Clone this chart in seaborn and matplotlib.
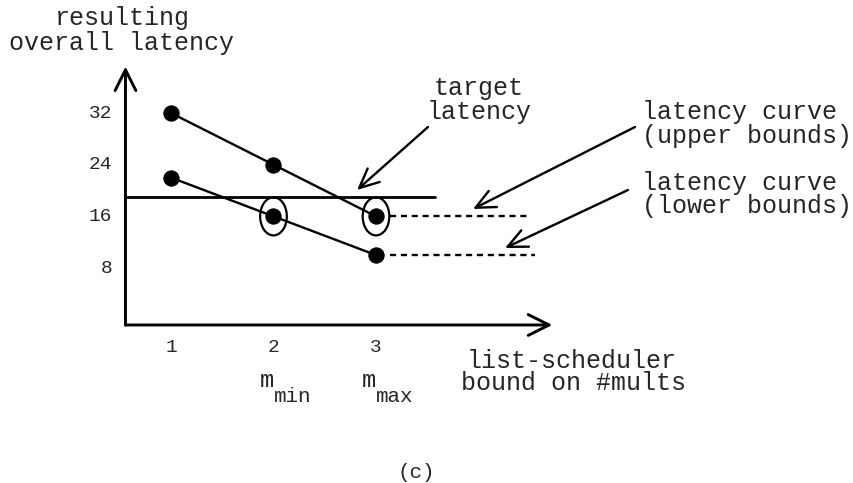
import matplotlib
matplotlib.use("Agg")
import matplotlib.pyplot as plt
from matplotlib.patches import Ellipse
import seaborn as sns
import pandas as pd

# ---- data ----
bounds = [1, 2, 3]                 # list-scheduler bound on #mults
upper_latency = [32, 24, 16]       # latency curve (upper bounds)
lower_latency = [22, 16, 10]       # latency curve (lower bounds)
target_latency = 19
y_ticks = [8, 16, 24, 32]
x_ticks = [1, 2, 3]
x_tick_labels = ["1", "2", "3"]
circled_bounds = [2, 3]            # m_min, m_max
circled_values = [16, 16]
sub_labels = ["min", "max"]
upper_tail_end = 4.5
lower_tail_end = 4.55
target_end = 3.58
axis_x0, axis_y0 = 0.556, -0.82
axis_x_end, axis_y_end = 4.72, 39.2

W, H = 854, 483
sns.set_theme(style="white")
plt.rcParams["font.family"] = ["Liberation Mono", "DejaVu Sans Mono"]

fig = plt.figure(figsize=(W / 100, H / 100), dpi=100)
ax = fig.add_axes([0, 0, 1, 1])
ax.set_xlim(-0.668, 7.663)
ax.set_ylim(-25.29, 49.5)
ax.axis("off")

def pt(px, py):
    return (px, H - py)

df = pd.DataFrame({
    "bound": bounds * 2,
    "latency": upper_latency + lower_latency,
    "curve": ["upper"] * 3 + ["lower"] * 3,
})
sns.lineplot(data=df, x="bound", y="latency", units="curve", estimator=None,
             color="black", lw=1.7, marker="o", markersize=11,
             markeredgecolor="black", ax=ax, legend=False)

# dashed tails
for vals, end in [(upper_latency, upper_tail_end), (lower_latency, lower_tail_end)]:
    x_last = bounds[-1]
    ax.plot([x_last + 0.14, end], [vals[-1], vals[-1]], color="black", lw=1.7,
            linestyle=(0, (2.6, 2.0)))

# target line
ax.plot([axis_x0, target_end], [target_latency, target_latency], color="black", lw=2.0)

# ellipses
for bx, by in zip(circled_bounds, circled_values):
    ax.add_patch(Ellipse((bx, by), width=0.26, height=5.9, fill=False,
                         edgecolor="black", lw=1.6))

# axes arrows
ax.annotate("", xy=(axis_x0, axis_y_end), xytext=(axis_x0, axis_y0),
            arrowprops=dict(arrowstyle="->,head_length=1.5,head_width=0.75",
                            lw=2.1, color="black", shrinkA=0, shrinkB=0,
                            mutation_scale=10))
ax.annotate("", xy=(axis_x_end, axis_y0), xytext=(axis_x0, axis_y0),
            arrowprops=dict(arrowstyle="->,head_length=1.5,head_width=0.75",
                            lw=2.1, color="black", shrinkA=0, shrinkB=0,
                            mutation_scale=10))

# tick labels
for v in y_ticks:
    ax.text(0.43, v, str(v), ha="right", va="center", fontsize=14)
for v, lab in zip(x_ticks, x_tick_labels):
    ax.text(v, -4.3, lab, ha="center", va="center", fontsize=14)

# m_min / m_max
for bx, sub in zip(circled_bounds, sub_labels):
    ax.text(bx, -10.4, "m", ha="right", va="baseline", fontsize=17)
    ax.text(bx, -12.75, sub, ha="left", va="baseline", fontsize=15)

# texts (figure pixel placement)
def label(px, py, s, ha="left", size=18):
    fig.text(px / W, 1 - py / H, s, ha=ha, va="baseline", fontsize=size)

label(122, 25, "resulting", ha="center")
label(122, 50, "overall latency", ha="center")
label(479, 95, "target", ha="center")
label(479, 119, "latency", ha="center")
label(642, 119, "latency curve")
label(642, 143, "(upper bounds)")
label(642, 190, "latency curve")
label(642, 213, "(lower bounds)")
label(467, 368, "list-scheduler")
label(461, 390, "bound on #mults")
label(416, 478, "(c)", ha="center", size=15)

# annotation arrows
def arrow(start, tip):
    ax.annotate("", xy=pt(*tip), xytext=pt(*start), xycoords="figure pixels",
                textcoords="figure pixels",
                arrowprops=dict(arrowstyle="->,head_length=1.4,head_width=0.65",
                                lw=1.7, color="black", shrinkA=0, shrinkB=0,
                                mutation_scale=10))

arrow((428, 127), (357, 190))
arrow((635, 127), (473, 209))
arrow((628, 190), (505, 248))

fig.savefig("out.png", dpi=100)
